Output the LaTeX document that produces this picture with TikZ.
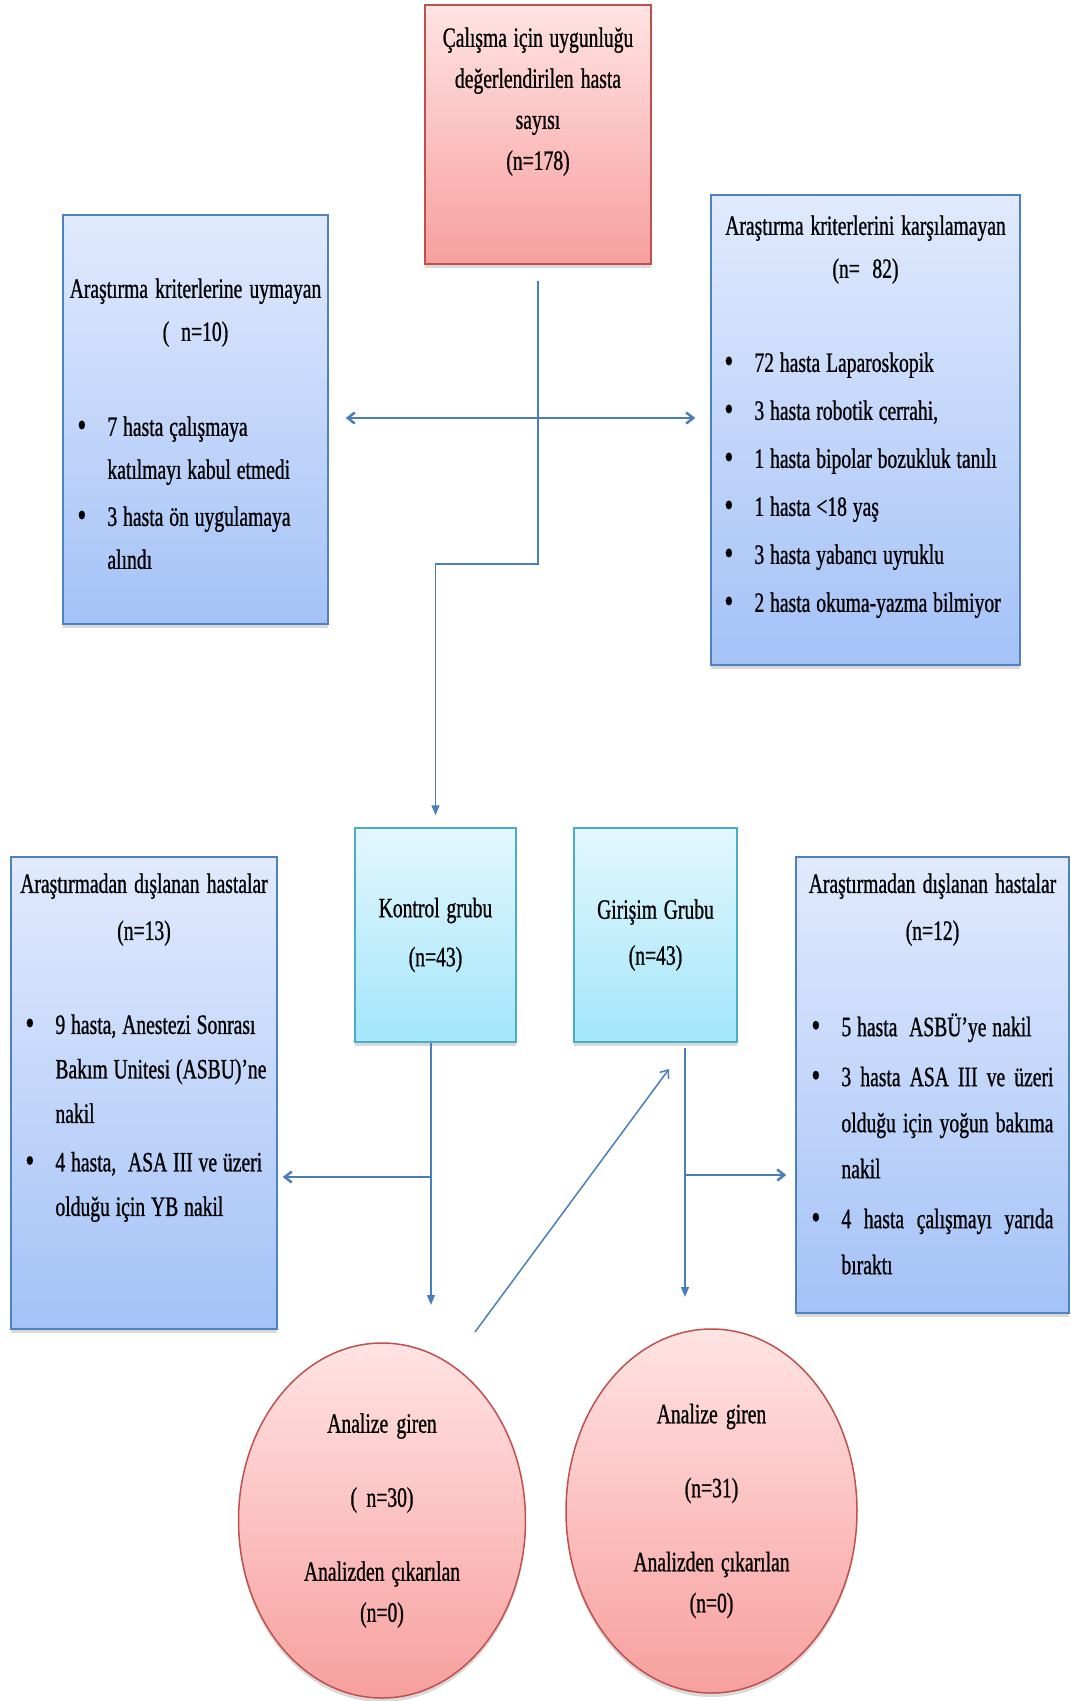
\documentclass[tikz,border=0pt]{standalone}
\usepackage{fontspec}
\setmainfont{Liberation Serif}[FakeStretch=0.7, WordSpace=1.2, FakeBold=0.8]
\usetikzlibrary{shapes.geometric,arrows.meta,shadows,positioning}
\definecolor{boxblue}{HTML}{4F81BD}
\definecolor{blueTop}{HTML}{E1EAFD}
\definecolor{blueBot}{HTML}{A4C2F7}
\definecolor{redline}{HTML}{C0504D}
\definecolor{redTop}{HTML}{FFE3E3}
\definecolor{redBot}{HTML}{F7A09E}
\definecolor{cyanline}{HTML}{4BACC6}
\definecolor{cyanTop}{HTML}{E3F7FE}
\definecolor{cyanBot}{HTML}{A3E6FA}
\definecolor{arrowblue}{HTML}{4A7EBB}

\newcommand{\itm}[1]{\noindent\hangindent=30pt\hangafter=1\makebox[30pt][l]{\raisebox{-1pt}{\fontsize{36}{36}\selectfont\textbullet}}#1\par}

\begin{document}
\begin{tikzpicture}[x=1pt, y=-1pt,
  line/.style={arrowblue, line width=1.5pt},
  arr/.style={line, -{Straight Barb[length=7pt,width=11pt]}},
  arrdown/.style={line, -{Triangle[length=10pt,width=8pt]}},
  thickarr/.style={arr, line width=2.5pt},
  shad/.style={drop shadow={shadow xshift=0pt, shadow yshift=-4pt, opacity=.3}},
  natsp/.style={execute at begin node={\spaceskip=0pt\xspaceskip=0pt}},
  bluebox/.style={draw=boxblue, line width=1.5pt, top color=blueTop, bottom color=blueBot, shad, inner sep=0pt},
  redbox/.style={draw=redline, line width=1.5pt, top color=redTop, bottom color=redBot, shad, inner sep=0pt},
  cyanbox/.style={draw=cyanline, line width=1.5pt, top color=cyanTop, bottom color=cyanBot, shad, inner sep=0pt, natsp},
  redell/.style={ellipse, draw=redline, line width=1.5pt, top color=redTop, bottom color=redBot, shad, inner sep=0pt, natsp},
  txt/.style={font=\fontsize{28}{43}\selectfont, inner sep=0pt},
  head/.style={txt, text width=300pt, align=center, anchor=north, natsp},
  lst/.style={txt, anchor=north west, align=left,
    execute at begin node={\spaceskip=0pt\xspaceskip=0pt\setlength{\parskip}{4pt}\hyphenpenalty=10000\exhyphenpenalty=10000}}
]
\useasboundingbox (0,0) rectangle (1071,1701);

% boxes
\node[redbox, minimum width=226pt, minimum height=259pt] (top) at (538,134.5) {};
\node[bluebox, minimum width=265pt, minimum height=409pt] (lefttop) at (195.5,419.5) {};
\node[bluebox, minimum width=309pt, minimum height=470pt] (righttop) at (865.5,430) {};
\node[cyanbox, minimum width=161pt, minimum height=214pt, text width=150pt, align=center,
  font=\fontsize{28}{49}\selectfont] (kontrol) at (435.5,935) {Kontrol grubu\\(n=43)};
\node[cyanbox, minimum width=163pt, minimum height=214pt, text width=150pt, align=center,
  font=\fontsize{28}{46}\selectfont] (girisim) at (655.5,935) {Girişim Grubu\\(n=43)};
\node[bluebox, minimum width=266pt, minimum height=472pt] (botleft) at (144,1093) {};
\node[bluebox, minimum width=273pt, minimum height=456pt] (botright) at (932.5,1085) {};
\node[redell, minimum width=287pt, minimum height=355pt, text width=200pt, align=center,
  font=\fontsize{28}{41}\selectfont] (analizK) at (382,1520.5)
  {Analize giren\\[33pt]( n=30)\\[33pt]Analizden çıkarılan\\(n=0)};
\node[redell, minimum width=291pt, minimum height=364pt, text width=200pt, align=center,
  font=\fontsize{28}{41}\selectfont] (analizG) at (711.5,1511)
  {Analize giren\\[33pt](n=31)\\[33pt]Analizden çıkarılan\\(n=0)};

% texts
\node[head, text width=216pt, font=\fontsize{28}{41}\selectfont] (toptext) at ([yshift=-23pt]top.north)
  {Çalışma için uygunluğu\\değerlendirilen hasta\\sayısı\\(n=178)};
\node[head] (lefthead) at ([yshift=-64pt]lefttop.north) {Araştırma kriterlerine uymayan\\( n=10)};
\node[lst, text width=260pt] (leftlist) at ([xshift=15pt, yshift=-202pt]lefttop.north west)
  {\itm{7 hasta çalışmaya\newline katılmayı kabul etmedi}\itm{3 hasta ön uygulamaya\newline alındı}};
\node[head, text width=320pt] (righthead) at ([yshift=-21pt]righttop.north) {Araştırma kriterlerini karşılamayan\\(n= 82)};
\node[lst, text width=320pt, font=\fontsize{28}{44}\selectfont] (rightlist) at ([xshift=14pt, yshift=-158pt]righttop.north west)
  {\itm{72 hasta Laparoskopik}\itm{3 hasta robotik cerrahi,}\itm{1 hasta bipolar bozukluk tanılı}%
   \itm{1 hasta <18 yaş}\itm{3 hasta yabancı uyruklu}\itm{2 hasta okuma-yazma bilmiyor}};
\node[head, font=\fontsize{28}{47}\selectfont] (botlefthead) at ([yshift=-17pt]botleft.north) {Araştırmadan dışlanan hastalar\\(n=13)};
\node[lst, text width=280pt, font=\fontsize{28}{44.5}\selectfont] (botleftlist) at ([xshift=15pt, yshift=-158pt]botleft.north west)
  {\itm{9 hasta, Anestezi Sonrası\newline Bakım Unitesi (ASBU)’ne\newline nakil}\itm{4 hasta,~ ASA III ve üzeri\newline olduğu için YB nakil}};
\node[head, font=\fontsize{28}{47}\selectfont] (botrighthead) at ([yshift=-17pt]botright.north) {Araştırmadan dışlanan hastalar\\(n=12)};
\node[lst, align=justify, text width=242pt, font=\fontsize{28}{46}\selectfont] (botrightlist) at ([xshift=16pt, yshift=-157pt]botright.north west)
  {\itm{5 hasta~ ASBÜ’ye nakil}\itm{3 hasta ASA III ve üzeri\linebreak olduğu için yoğun bakıma\linebreak nakil}%
   \itm{4 hasta çalışmayı yarıda\linebreak bıraktı}};

% connectors
\coordinate (y564) at (0,564);
\coordinate (split) at (536,418);
\coordinate (kEnd) at (431,1305);
\coordinate (kSplit) at (431,1177);
\coordinate (gEnd) at (685,1297);
\coordinate (gSplit) at (685,1175);
\coordinate (dStart) at (475,1332);
\coordinate (dEnd) at (669,1069);

\draw[arrdown, shorten >=12pt] ([yshift=-16pt]top.south) -- (top.south |- y564) -- (kontrol.north |- y564) -- (kontrol.north);
\draw[thickarr, shorten >=17pt] (split) -- (lefttop.east |- split);
\draw[thickarr, shorten >=15pt] (split) -- (righttop.west |- split);
\draw[arrdown] (kontrol.south -| kEnd) -- (kEnd);
\draw[thickarr, shorten >=5pt] (kSplit) -- (botleft.east |- kSplit);
\draw[arrdown] ([yshift=-5pt]girisim.south -| gEnd) -- (gEnd);
\draw[thickarr, shorten >=9pt] (gSplit) -- (botright.west |- gSplit);
\draw[arr] (dStart) -- (dEnd);

\end{tikzpicture}
\end{document}
